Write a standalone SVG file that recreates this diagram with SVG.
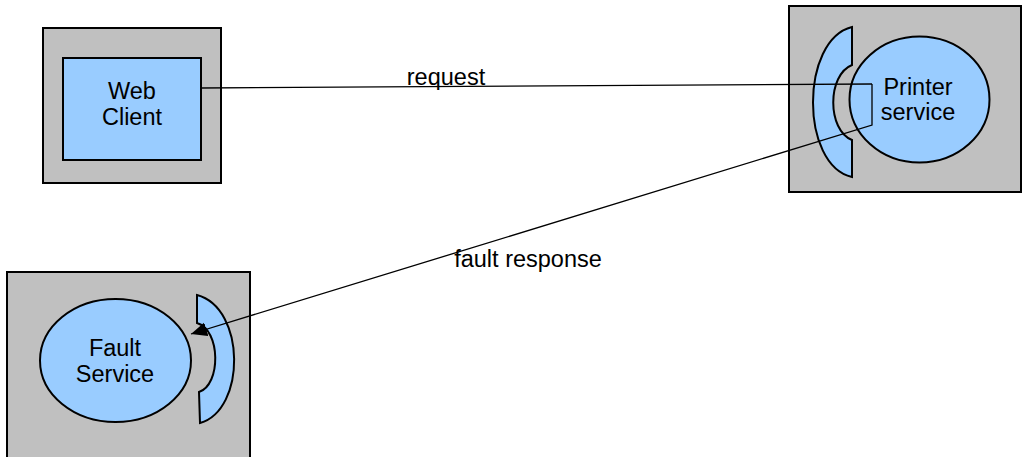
<svg xmlns="http://www.w3.org/2000/svg" width="1022" height="457" viewBox="0 0 1022 457">
<style>
.box{fill:#C0C0C0;stroke:#000;stroke-width:2}
.blue{fill:#99CCFF;stroke:#000;stroke-width:2}
.lbl{font-family:"Liberation Sans",Arial,sans-serif;font-size:23.5px;fill:#000;text-anchor:middle}
.edge{fill:none;stroke:#000;stroke-width:1.3}
.elbl{font-family:"Liberation Sans",Arial,sans-serif;font-size:23.5px;fill:#000;text-anchor:middle}
</style>
<defs>
<marker id="arr" markerUnits="userSpaceOnUse" markerWidth="18" markerHeight="16" refX="16" refY="7" orient="auto">
<path d="M0,0 L16,7 L0,14 Z" fill="#000"/>
</marker>
</defs>
<rect width="1022" height="457" fill="#fff"/>
<g id="web-client">
<rect class="box" x="43" y="28" width="178" height="155"/>
<rect class="blue" x="63" y="58" width="138" height="102"/>
<text class="lbl" x="132" y="99">Web</text>
<text class="lbl" x="132" y="125">Client</text>
</g>
<g id="printer-service">
<rect class="box" x="789" y="6" width="232" height="186"/>
<path class="blue" d="M852,27 L852,65 C827,75 827,130 852,140 L852,177 C800,165 800,40 852,27 Z"/>
<ellipse class="blue" cx="919.5" cy="99.5" rx="70" ry="63"/>
<text class="lbl" x="918" y="95">Printer</text>
<text class="lbl" x="918" y="120">service</text>
</g>
<g id="fault-service">
<rect class="box" x="7" y="272" width="243" height="200"/>
<ellipse class="blue" cx="115.5" cy="360.5" rx="75.5" ry="61.5"/>
<path class="blue" d="M197,295 L197,323 C221,330 221,385 199,392 L200,423 C246,410 246,308 197,295 Z"/>
<text class="lbl" x="115" y="356">Fault</text>
<text class="lbl" x="115" y="382">Service</text>
</g>
<g id="connectors">
<path class="edge" d="M201,88 L872,84"/>
<path class="edge" d="M872,84 L872,125 L191,334" marker-end="url(#arr)"/>
<text class="elbl" x="446" y="85">request</text>
<text class="elbl" x="528" y="267">fault response</text>
</g>
</svg>
